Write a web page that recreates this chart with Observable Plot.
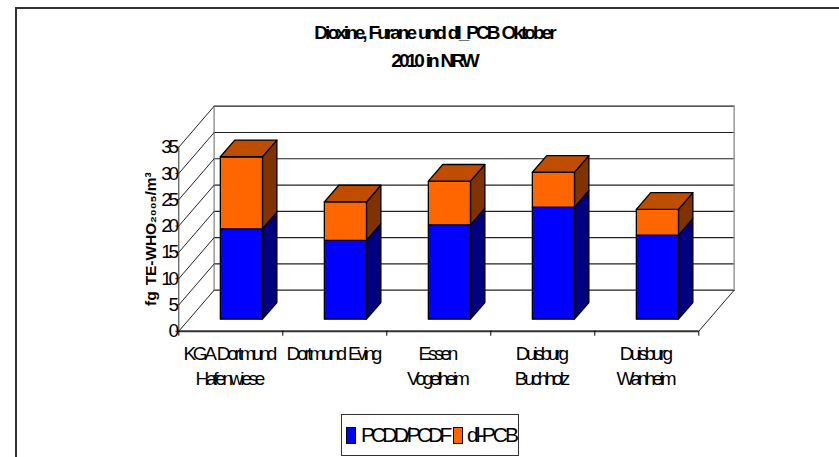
<!DOCTYPE html>
<html lang="de">
<head>
<meta charset="utf-8">
<script src="https://cdn.jsdelivr.net/npm/d3@7"></script>
<script src="https://cdn.jsdelivr.net/npm/@observablehq/plot@0.6"></script>
<style>
  html, body { margin: 0; padding: 0; background: #fff; overflow: hidden; width: 839px; height: 457px; }
  body { position: relative; font-family: "Liberation Sans", Arial, sans-serif; color: #000; }
  #frame { position: absolute; left: 15px; top: 7px; width: 830px; height: 460px; border-left: 2px solid #333; border-top: 2px solid #333; }
  #title { position: absolute; left: 0; top: 19px; width: 868px; text-align: center; font-weight: bold; font-size: 19px; line-height: 28px; letter-spacing: -2.95px; word-spacing: 1.5px; }
  #chart { position: absolute; left: 0; top: 80px; }
  #legend { position: absolute; left: 341px; top: 414px; width: 176px; height: 40px; border: 1px solid #333; font-size: 21px; }
  #legend i { position: absolute; top: 12px; width: 8px; height: 15px; border: 1px solid #000; }
  #legend span { position: absolute; top: 8px; white-space: nowrap; }
  g[aria-label="text"] text { letter-spacing: -0.1px; }
</style>
</head>
<body>
<div id="frame"></div>
<div id="title"></div>
<div id="chart"></div>
<div id="legend"></div>
<script>
const titleLines = ["Dioxine, Furane und dl_PCB Oktober", "2010 in NRW"];
const sites = ["KGA Dortmund\nHafenwiese", "Dortmund Eving", "Essen\nVogelheim", "Duisburg\nBuchholz", "Duisburg\nWanheim"];
const pcdd = [17.2, 15.0, 17.95, 21.3, 16.0];
const dlPcb = [13.7, 7.3, 8.3, 6.65, 4.9];
const seriesNames = ["PCDD/PCDF", "dl-PCB"];
const yTicks = [0, 5, 10, 15, 20, 25, 30, 35];
const yLabel = "fg TE-WHO₂₀₀₅/m³";

// Oblique projection: x is in category units, y in value units.
const wallX = 0.34, wallY = 7.8;
const P = (c, d, v) => ({x: c + d * wallX, y: v + d * wallY});
const n = sites.length, yMax = yTicks[yTicks.length - 1];
const barFront = 0.2927, barBack = 0.70, barLeft = 0.30, barRight = 0.705;

const poly = (id, pts) => pts.map(p => ({id, ...p}));
const faces = {front: {}, side: {}, cap: {}};
const addFace = (key, color, id, pts) => { (faces[key][color] ||= []).push(...poly(id, pts)); };
sites.forEach((s, i) => {
  const l = i + barLeft, r = i + barRight;
  const levels = [[0, pcdd[i], "#0000ff", "#000080"], [pcdd[i], pcdd[i] + dlPcb[i], "#ff6600", "#803300"]];
  levels.forEach(([a, b, c1, c2], k) => {
    addFace("front", c1, `f${i}${k}`, [P(l, barFront, a), P(r, barFront, a), P(r, barFront, b), P(l, barFront, b)]);
    addFace("side", c2, `s${i}${k}`, [P(r, barFront, a), P(r, barBack, a), P(r, barBack, b), P(r, barFront, b)]);
  });
  const t = pcdd[i] + dlPcb[i];
  addFace("cap", "#bf4d00", `c${i}`, [P(l, barFront, t), P(r, barFront, t), P(r, barBack, t), P(l, barBack, t)]);
});

const seg = (id, a, b) => poly(id, [a, b]);
const backGrid = yTicks.flatMap(v => seg(`b${v}`, P(0, 1, v), P(n, 1, v)));
const sideGrid = yTicks.flatMap(v => seg(`l${v}`, P(0, 0, v), P(0, 1, v)));
const wallEdges = [...seg("e1", P(0, 1, 0), P(0, 1, yMax)), ...seg("e2", P(n, 1, 0), P(n, 1, yMax))];
const floorEdge = seg("fl", P(n, 0, 0), P(n, 1, 0));

const barMarks = ["side", "front", "cap"].flatMap(key =>
  Object.entries(faces[key]).map(([color, data]) =>
    Plot.line(data, {x: "x", y: "y", z: "id", curve: "linear-closed", fill: color, stroke: "#000", strokeWidth: 1.3})));

const chart = Plot.plot({
  width: 839, height: 330,
  marginLeft: 178.3, marginRight: 140.7, marginTop: 66.7, marginBottom: 79.3,
  style: {fontFamily: "'Liberation Sans', Arial, sans-serif", fontSize: "19px", letterSpacing: "-3.25px", wordSpacing: "2px", color: "#000", background: "transparent", overflow: "visible"},
  x: {domain: [0, n]},
  y: {domain: [0, yMax]},
  marks: [
    Plot.line(backGrid, {x: "x", y: "y", z: "id", stroke: "#222", strokeWidth: 1.2}),
    Plot.line(wallEdges, {x: "x", y: "y", z: "id", stroke: "#999", strokeWidth: 1.5}),
    Plot.line(sideGrid, {x: "x", y: "y", z: "id", stroke: "#222", strokeWidth: 1}),
    Plot.line(floorEdge, {x: "x", y: "y", z: "id", stroke: "#222", strokeWidth: 1}),
    Plot.ruleX([0], {stroke: "#333", strokeWidth: 1}),
    Plot.ruleY([0], {stroke: "#333", strokeWidth: 2}),
    Plot.axisY({ticks: yTicks, tickSize: 3, tickPadding: 0, label: null, stroke: "#333"}),
    Plot.axisX({ticks: d3.range(0, n + 1), tickSize: 5, tickFormat: () => "", label: null, stroke: "#000"}),
    Plot.axisX({ticks: sites.map((s, i) => i + 0.5), tickSize: 0, tickPadding: 10, lineHeight: 1.36, lineAnchor: "top", dx: -2,
      tickFormat: v => sites[Math.floor(v)], label: null}),
    Plot.text([yLabel], {frameAnchor: "left", textAnchor: "middle", dx: -28, y: () => 17.5, rotate: -90, text: d => d, fontWeight: "bold", fontSize: 15.5}),
    ...barMarks
  ]
});
document.getElementById("chart").append(chart);

document.getElementById("title").innerHTML = titleLines.join("<br>");
const legendBox = document.getElementById("legend");
const swatchColors = ["#0000ff", "#ff6600"];
const swatchLeft = [4, 111], textLeft = [19, 125], textTrack = [-3.9, -2.9];
seriesNames.forEach((name, i) => {
  const sw = document.createElement("i");
  sw.style.left = swatchLeft[i] + "px";
  sw.style.background = swatchColors[i];
  const t = document.createElement("span");
  t.style.left = textLeft[i] + "px";
  t.style.letterSpacing = textTrack[i] + "px";
  t.textContent = name;
  legendBox.append(sw, t);
});
</script>
</body>
</html>
